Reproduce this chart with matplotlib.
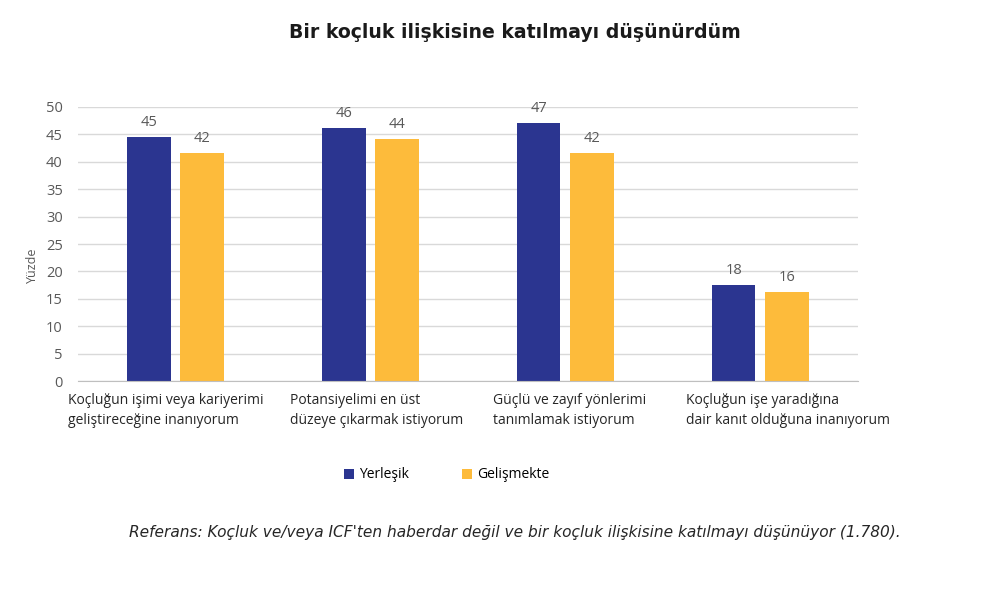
import matplotlib.pyplot as plt
import numpy as np

# values
categories = [
    "Koçluğun işimi veya kariyerimi\ngeliştireceğine inanıyorum",
    "Potansiyelimi en üst\ndüzeye çıkarmak istiyorum",
    "Güçlü ve zayıf yönlerimi\ntanımlamak istiyorum",
    "Koçluğun işe yaradığına\ndair kanıt olduğuna inanıyorum",
]
yerlesik = [44.6, 46.2, 47.1, 17.6]
gelismekte = [41.6, 44.2, 41.6, 16.2]
series_names = ["Yerleşik", "Gelişmekte"]
yticks = [0, 5, 10, 15, 20, 25, 30, 35, 40, 45, 50]

blue = "#2B3590"
yellow = "#FDBB3B"
grey_text = "#595959"

plt.rcParams['font.family'] = ['Open Sans', 'DejaVu Sans']

fig = plt.figure(figsize=(9.96, 6.11), dpi=100)
ax = fig.add_axes([0.0783, 0.3764, 0.7831, 0.4485])

x = np.arange(len(categories))
w = 0.225
off = 0.138
b1 = ax.bar(x - off, yerlesik, w, color=blue, zorder=3, label=series_names[0])
b2 = ax.bar(x + off, gelismekte, w, color=yellow, zorder=3, label=series_names[1])

for bars, vals in ((b1, yerlesik), (b2, gelismekte)):
    for rect, v in zip(bars, vals):
        ax.annotate(f"{round(v)}", (rect.get_x() + rect.get_width() / 2, v),
                    xytext=(0, 5), textcoords="offset points",
                    ha="center", va="bottom", fontsize=10.5, color=grey_text)

ax.set_xlim(-0.5, len(categories) - 0.5)
ax.set_ylim(0, 50)
ax.set_yticks(yticks)
ax.tick_params(axis='y', length=0, labelsize=10.5, labelcolor=grey_text, pad=11)
ax.set_xticks([])
ax.yaxis.grid(True, color="#D9D9D9", linewidth=1, zorder=0)
for s in ["top", "right", "left"]:
    ax.spines[s].set_visible(False)
ax.spines["bottom"].set_color("#BFBFBF")
ax.spines["bottom"].set_zorder(4)

ax.set_ylabel("Yüzde", fontsize=9, color=grey_text)
ax.yaxis.set_label_coords(-0.05, 0.423)

# category labels, left aligned under each group
label_x = [68, 290, 493, 686]
for lx, txt in zip(label_x, categories):
    fig.text(lx / 996, 1 - 393 / 611, txt, ha="left", va="top",
             fontsize=10, color="#262626", linespacing=1.5)

fig.text(515 / 996, 1 - 32 / 611, "Bir koçluk ilişkisine katılmayı düşünürdüm",
         ha="center", va="center", fontsize=13.6, fontweight="bold",
         color="#1a1a1a", family=['DejaVu Sans'])

fig.legend(handles=[b1, b2], loc="center", bbox_to_anchor=(447 / 996, 1 - 475 / 611),
           ncol=2, frameon=False, fontsize=10, handlelength=0.7, handleheight=0.7,
           columnspacing=3.8, handletextpad=0.4)

fig.text(515 / 996, 1 - 532 / 611,
         "Referans: Koçluk ve/veya ICF'ten haberdar değil ve bir koçluk ilişkisine katılmayı düşünüyor (1.780).",
         ha="center", va="center", fontsize=11.1, style="italic",
         color="#262626", family=['DejaVu Sans'])

fig.savefig("out.png", dpi=100)
